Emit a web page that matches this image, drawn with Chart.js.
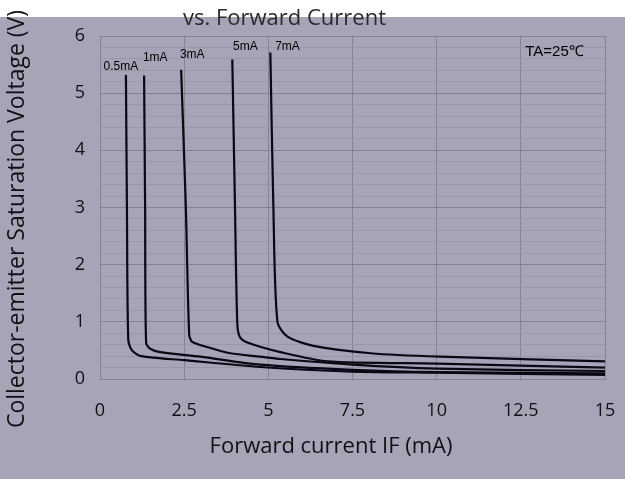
<!DOCTYPE html>
<html>
<head>
<meta charset="utf-8">
<script src="https://cdn.jsdelivr.net/npm/chart.js@4"></script>
<style>
  html, body { margin: 0; padding: 0; background: #a9a3b7; }
  #wrap { width: 625px; height: 479px; }
</style>
</head>
<body>
<div id="wrap"><canvas id="chart" width="625" height="479"></canvas></div>
<script>
/* Vce(sat) vs. forward current */

const xTicks = [0, 2.5, 5, 7.5, 10, 12.5, 15];
const yTicks = [0, 1, 2, 3, 4, 5, 6];

const seriesNames = ['0.5mA', '1mA', '3mA', '5mA', '7mA'];

// IF (mA) / Vce (V) for each collector current
const if05 = [0.77, 0.80, 0.84, 0.95, 1.22, 2.5, 4.76, 7.5, 10, 15];
const vce05 = [5.32, 3.0, 0.68, 0.50, 0.40, 0.33, 0.21, 0.13, 0.11, 0.07];

const if1 = [1.31, 1.34, 1.37, 1.49, 1.79, 2.98, 4.76, 7.5, 10, 15];
const vce1 = [5.31, 3.0, 0.63, 0.53, 0.47, 0.39, 0.25, 0.16, 0.12, 0.10];

const if3 = [2.41, 2.55, 2.65, 2.74, 3.18, 3.87, 4.76, 5.36, 7.5, 10, 15];
const vce3 = [5.41, 3.0, 0.77, 0.65, 0.56, 0.45, 0.39, 0.35, 0.25, 0.18, 0.14];

const if5 = [3.93, 4.01, 4.08, 4.17, 4.46, 5.36, 6.75, 10, 15];
const vce5 = [5.59, 3.0, 0.95, 0.72, 0.62, 0.47, 0.31, 0.27, 0.20];

const if7 = [5.06, 5.15, 5.27, 5.57, 6.34, 8.04, 10.1, 15];
const vce7 = [5.71, 3.0, 1.0, 0.74, 0.58, 0.45, 0.39, 0.31];

const seriesX = [if05, if1, if3, if5, if7];
const seriesY = [vce05, vce1, vce3, vce5, vce7];

// where each curve name sits (data units)
const labelAt = [[0.62, 5.46], [1.64, 5.62], [2.74, 5.67], [4.32, 5.81], [5.57, 5.81]];

const BG = '#a9a3b7';
const FONT = '"Open Sans", sans-serif';

/* 배경 + 주석 텍스트 + 축 제목 */
const decor = {
  id: 'decor',
  beforeDraw(chart) {
    const c = chart.ctx;
    c.save();
    c.fillStyle = BG;
    c.fillRect(0, 0, chart.width, chart.height);
    c.fillStyle = '#ffffff';
    c.fillRect(0, 0, chart.width, 17);
    c.restore();
  },
  afterDraw(chart) {
    const c = chart.ctx;
    const xs = chart.scales.x, ys = chart.scales.y;
    c.save();
    c.fillStyle = '#000';
    c.font = '12px "Liberation Sans", Arial, sans-serif';
    c.textAlign = 'center';
    c.textBaseline = 'middle';
    seriesNames.forEach((n, i) => {
      c.fillText(n, xs.getPixelForValue(labelAt[i][0]), ys.getPixelForValue(labelAt[i][1]));
    });
    c.font = '15px "Liberation Sans", Arial, sans-serif';
    c.fillText('TA=25℃', xs.getPixelForValue(13.5), ys.getPixelForValue(5.73));

    // 축 제목
    c.fillStyle = '#111';
    c.font = '22px ' + FONT;
    c.fillText('Forward current IF (mA)', 331, 447);
    c.save();
    c.translate(17, 219);
    c.rotate(-Math.PI / 2);
    c.font = '23px ' + FONT;
    c.fillText('Collector-emitter Saturation Voltage (V)', 0, 0);
    c.restore();

    // 제목 (위쪽이 잘린 형태)
    c.fillStyle = '#2a2a2a';
    c.font = '22px ' + FONT;
    c.textAlign = 'left';
    c.textBaseline = 'alphabetic';
    c.fillText('vs. Forward Current', 183, 25);
    c.restore();
  }
};

const datasets = seriesNames.map((n, i) => ({
  label: n,
  data: seriesX[i].map((x, k) => ({ x: x, y: seriesY[i][k] })),
  showLine: true,
  borderColor: '#0b0714',
  borderWidth: 2.2,
  pointRadius: 0,
  tension: 0.25,
  fill: false,
}));

const isMajor = v => Math.abs(v - Math.round(v)) < 1e-6;

new Chart(document.getElementById('chart'), {
  type: 'scatter',
  data: { datasets },
  plugins: [decor],
  options: {
    responsive: false,
    animation: false,
    layout: { padding: { top: 36, right: 20, left: 0, bottom: 0 } },
    plugins: { legend: { display: false }, tooltip: { enabled: false } },
    scales: {
      x: {
        type: 'linear',
        min: xTicks[0],
        max: xTicks[xTicks.length - 1],
        afterBuildTicks: s => { s.ticks = xTicks.map(v => ({ value: v })); },
        afterFit: s => { s.height = 100; s.paddingLeft = 0; s.paddingRight = 0; },
        grid: { color: '#858190', lineWidth: 1, drawTicks: false },
        border: { color: '#858190' },
        ticks: {
          padding: 21,
          color: '#111',
          font: { family: FONT, size: 18 },
          maxRotation: 0,
          autoSkip: false,
        },
      },
      y: {
        type: 'linear',
        min: yTicks[0],
        max: yTicks[yTicks.length - 1],
        afterBuildTicks: s => {
          const t = [];
          for (let i = 0; i < yTicks.length - 1; i++) {
            for (let k = 0; k < 5; k++) t.push({ value: yTicks[i] + k * 0.2 });
          }
          t.push({ value: yTicks[yTicks.length - 1] });
          s.ticks = t;
        },
        afterFit: s => { s.width = 100; s.paddingTop = 0; s.paddingBottom = 0; },
        grid: {
          drawTicks: false,
          color: ctx => isMajor(ctx.tick.value) ? '#858190' : '#9b97a8',
          lineWidth: 1,
        },
        border: { color: '#858190' },
        ticks: {
          padding: 15,
          color: '#111',
          font: { family: FONT, size: 18 },
          autoSkip: false,
          callback: v => isMajor(v) ? String(Math.round(v)) : '',
        },
      },
    },
  },
});
</script>
</body>
</html>
